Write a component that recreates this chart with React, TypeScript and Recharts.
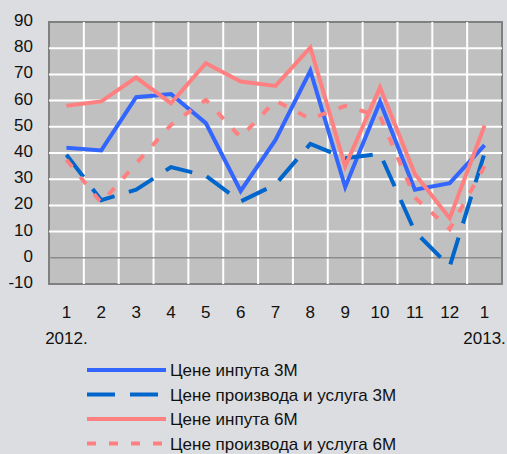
import {
    CartesianGrid,
    Line,
    LineChart,
    ReferenceArea,
    ReferenceLine,
    XAxis,
    YAxis
} from 'recharts';

const slots = [1, 2, 3, 4, 5, 6, 7, 8, 9, 10, 11, 12, 13];
const months = ['1', '2', '3', '4', '5', '6', '7', '8', '9', '10', '11', '12', '1'];
const years = ['2012.', '', '', '', '', '', '', '', '', '', '', '', '2013.'];
const yTicks = [-10, 0, 10, 20, 30, 40, 50, 60, 70, 80, 90];
const gridY = [10, 20, 30, 40, 50, 60, 70, 80];

const input3M = [42, 41, 61.3, 62.5, 51.4, 25.5, 45, 71.4, 27, 59.6, 26, 28.5, 43];
const producer3M = [39.3, 22, 26, 34.6, 31.3, 21.5, 28, 43.5, 38, 39.7, 10, -3.3, 40];
const input6M = [58, 59.7, 68.8, 59, 74.3, 67.3, 65.6, 80.3, 34.9, 65, 32, 15.1, 50.5];
const producer6M = [37.4, 21, 36, 50.7, 60.3, 46, 60, 53, 58, 54, 23, 11, 35];

const data = slots.map((s, i) => ({
    slot: s,
    input3M: input3M[i],
    producer3M: producer3M[i],
    input6M: input6M[i],
    producer6M: producer6M[i],
}));

const FONT = '"Liberation Sans", Arial, sans-serif';

const series = [
    { key: 'input3M', name: 'Цене инпута 3М', color: '#3366ff', dash: undefined },
    { key: 'producer3M', name: 'Цене производа и услуга 3М', color: '#0066cc', dash: '28 15' },
    { key: 'input6M', name: 'Цене инпута 6М', color: '#ff8080', dash: undefined },
    { key: 'producer6M', name: 'Цене производа и услуга 6М', color: '#ff8080', dash: '9 13' },
];

const XTick = ({ x, y, payload }: any) => {
    const i = payload.value - 1;
    return (
        <g>
            <text x={x} y={y + 34} textAnchor="middle" fontSize={17} fontFamily={FONT} fill="#111">
                {months[i]}
            </text>
            {years[i] && (
                <text x={x} y={y + 60} textAnchor="middle" fontSize={17} fontFamily={FONT} fill="#111">
                    {years[i]}
                </text>
            )}
        </g>
    );
};

const YTick = ({ x, y, payload }: any) => (
    <text x={x} y={y + 4} textAnchor="end" fontSize={17} fontFamily={FONT} fill="#111">
        {payload.value}
    </text>
);

// legend sits under the plot, drawn by hand
const ChartLegend = () => (
    <svg width={507} height={100} style={{ position: 'absolute', left: 0, top: 355 }}>
        {series.map((s, i) => {
            const cy = 15 + i * 24.5;
            return (
                <g key={s.key}>
                    <line
                        x1={87}
                        x2={166}
                        y1={cy}
                        y2={cy}
                        stroke={s.color}
                        strokeWidth={4}
                        strokeDasharray={s.dash}
                    />
                    <text x={170} y={cy + 6} fontSize={17} fontFamily={FONT} fill="#111">
                        {s.name}
                    </text>
                </g>
            );
        })}
    </svg>
);

export default function App() {
    return (
        <div style={{ position: 'absolute', left: 0, top: 0, width: 507, height: 454, background: '#dcdde0' }}>
            <LineChart
                width={507}
                height={454}
                data={data}
                margin={{ top: 22, right: 5, left: 0, bottom: 100 }}
            >
                <ReferenceArea x1={0.5} x2={13.5} y1={-10} y2={90} fill="#c0c0c0" fillOpacity={1} stroke="none" />
                {gridY.map((v) => (
                    <ReferenceLine key={v} y={v} stroke="#ffffff" strokeWidth={2} />
                ))}
                {slots.slice(0, 12).map((s) => (
                    <ReferenceLine key={'v' + s} x={s + 0.5} stroke="#ffffff" strokeWidth={2} />
                ))}
                <ReferenceLine y={0} stroke="#8c8c8c" strokeWidth={1.5} />
                <ReferenceArea x1={0.5} x2={13.5} y1={-10} y2={90} fill="none" stroke="#808080" strokeWidth={2} />
                <XAxis
                    type="number"
                    dataKey="slot"
                    domain={[0.5, 13.5]}
                    ticks={slots}
                    height={70}
                    axisLine={false}
                    tickLine={false}
                    tickSize={0}
                    tickMargin={0}
                    interval={0}
                    tick={<XTick />}
                />
                <YAxis
                    width={49}
                    domain={[-10, 90]}
                    ticks={yTicks}
                    axisLine={false}
                    tickLine={false}
                    tickSize={0}
                    tickMargin={16}
                    tick={<YTick />}
                />
                {series.map((s) => (
                    <Line
                        key={s.key}
                        type="linear"
                        dataKey={s.key}
                        name={s.name}
                        stroke={s.color}
                        strokeWidth={4}
                        strokeDasharray={s.dash}
                        dot={false}
                        activeDot={false}
                        isAnimationActive={false}
                    />
                ))}
            </LineChart>
            <ChartLegend />
        </div>
    );
}
